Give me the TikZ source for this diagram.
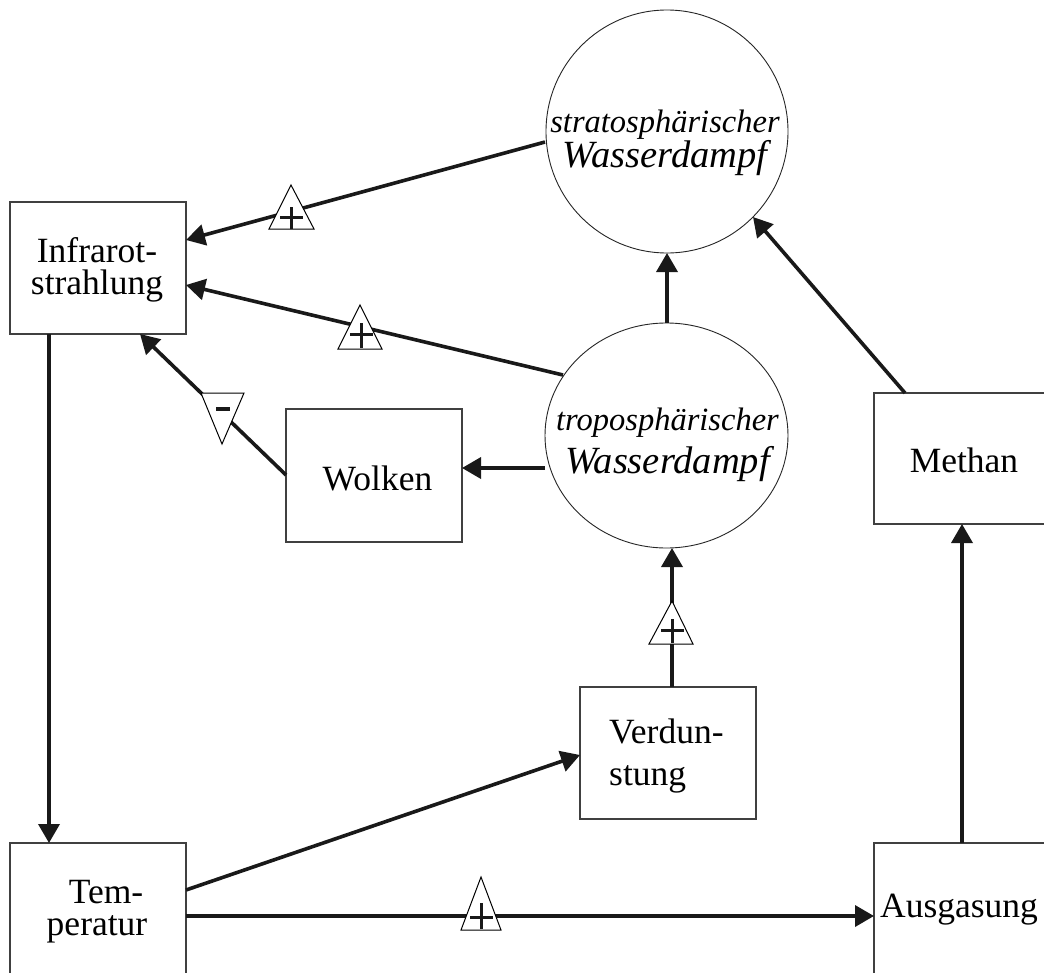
\documentclass[tikz,border=0pt]{standalone}
\usepackage{fontspec}
\setmainfont{Liberation Serif}
\usetikzlibrary{arrows.meta,shapes.geometric}
\tikzset{
  box/.style={draw=black!75,line width=1.1pt,rectangle,minimum width=176pt,minimum height=132pt,inner sep=0pt},
  wcirc/.style={draw=black!85,line width=0.9pt,ellipse,inner sep=0pt},
  conn/.style={line width=3.6pt,-{Triangle[length=19pt,width=21pt]},black!90},
  plain/.style={line width=3.6pt,black!90},
  txt/.style={anchor=base,inner sep=0pt,font=\fontsize{35.5}{33}\selectfont},
  itsmall/.style={anchor=base,inner sep=0pt,font=\fontsize{32.5}{33}\selectfont\itshape},
  itbig/.style={anchor=base,inner sep=0pt,font=\fontsize{38.5}{40}\selectfont\itshape},
  marker/.style={draw=black,line width=1pt,fill=white},
  signline/.style={line width=3pt,black!90}
}
\begin{document}
\begin{tikzpicture}[x=1pt,y=-1pt]
\clip (0,0) rectangle (1044,972);
\fill[white] (0,0) rectangle (1044,972);

% nodes
\node[wcirc,minimum width=242pt,minimum height=243pt] (strat) at (667,131.5) {};
\node[wcirc,minimum width=243pt,minimum height=225pt] (trop) at (666.5,435.5) {};
\node[box] (infra) at (98,268) {};
\node[box,minimum height=133pt] (wolken) at (374,475.5) {};
\node[box,minimum height=131pt] (methan) at (962,458.5) {};
\node[box] (verd) at (668,753) {};
\node[box] (temp) at (98,909) {};
\node[box] (ausg) at (962,909) {};

% texts
\node[itsmall] (t1) at (665,132) {stratosphärischer};
\node[itbig] (t2) at (665,167) {Wasserdampf};
\node[itsmall] (t3) at (667.5,430) {troposphärischer};
\node[itbig] (t4) at (667.5,473) {Wasserdampf};
\node[txt] (t5) at (97,262) {Infrarot-};
\node[txt] (t6) at (97,294.5) {strahlung};
\node[txt] (t7) at (377.5,490) {Wolken};
\node[txt] (t8) at (964,472) {Methan};
\node[txt,anchor=base west] (t9) at (609,743) {Verdun-};
\node[txt,anchor=base west] (t10) at (609,785) {stung};
\node[txt] (t11) at (106,903) {Tem-};
\node[txt] (t12) at (97,935) {peratur};
\node[txt,anchor=base west] (t13) at (880,917) {Ausgasung};

% connector end coordinates
\coordinate (s1) at (545,142);
\coordinate (e1) at (186,240);
\coordinate (s2) at (563,375);
\coordinate (e2) at (186,285);
\coordinate (s3) at (286,475);
\coordinate (e3) at (140,334);
\coordinate (s4) at (545,468);
\coordinate (e4) at (462,468);
\coordinate (s5) at (667,323);
\coordinate (e5) at (667,253);
\coordinate (s6) at (905,393);
\coordinate (e6) at (753,217);
\coordinate (s7) at (672,687);
\coordinate (e7) at (672,548);
\coordinate (s8) at (49,334);
\coordinate (e8) at (49,843);
\coordinate (s9) at (186,890);
\coordinate (e9) at (580,755);
\coordinate (s10) at (186,916);
\coordinate (e10) at (874,916);
\coordinate (s11) at (962,843);
\coordinate (e11) at (962,524);

\draw[conn] (s1) -- (e1);
\draw[conn] (s2) -- (e2);
\draw[conn] (s3) -- (e3);
\draw[conn] (s4) -- (e4);
\draw[conn] (s5) -- (e5);
\draw[conn] (s6) -- (e6);
\draw[conn] (s7) -- (e7);
\draw[conn] (s8) -- (e8);
\draw[conn] (s9) -- (e9);
\draw[conn] (s10) -- (e10);
\draw[conn] (s11) -- (e11);

% markers
\draw[marker] (291,185) -- (314,229) -- (269,229) -- cycle;
\draw[signline] (280,217) -- (303,217) (291.5,207) -- (291.5,229);

\draw[marker] (360,305) -- (382,349) -- (338,349) -- cycle;
\draw[signline] (350,334) -- (373,334) (361,323) -- (361,348);

\draw[marker] (672,601) -- (693,644) -- (649,644) -- cycle;
\draw[signline] (661,630) -- (684,630) (672,619) -- (672,643);

\draw[marker] (481,877) -- (501,930) -- (461,930) -- cycle;
\draw[signline] (470,917) -- (493,917) (481,903) -- (481,929);

\draw[marker] (201,393) -- (244,393) -- (222,444) -- cycle;
\draw[line width=4pt,black!90] (216,409) -- (230,409);
\end{tikzpicture}
\end{document}
